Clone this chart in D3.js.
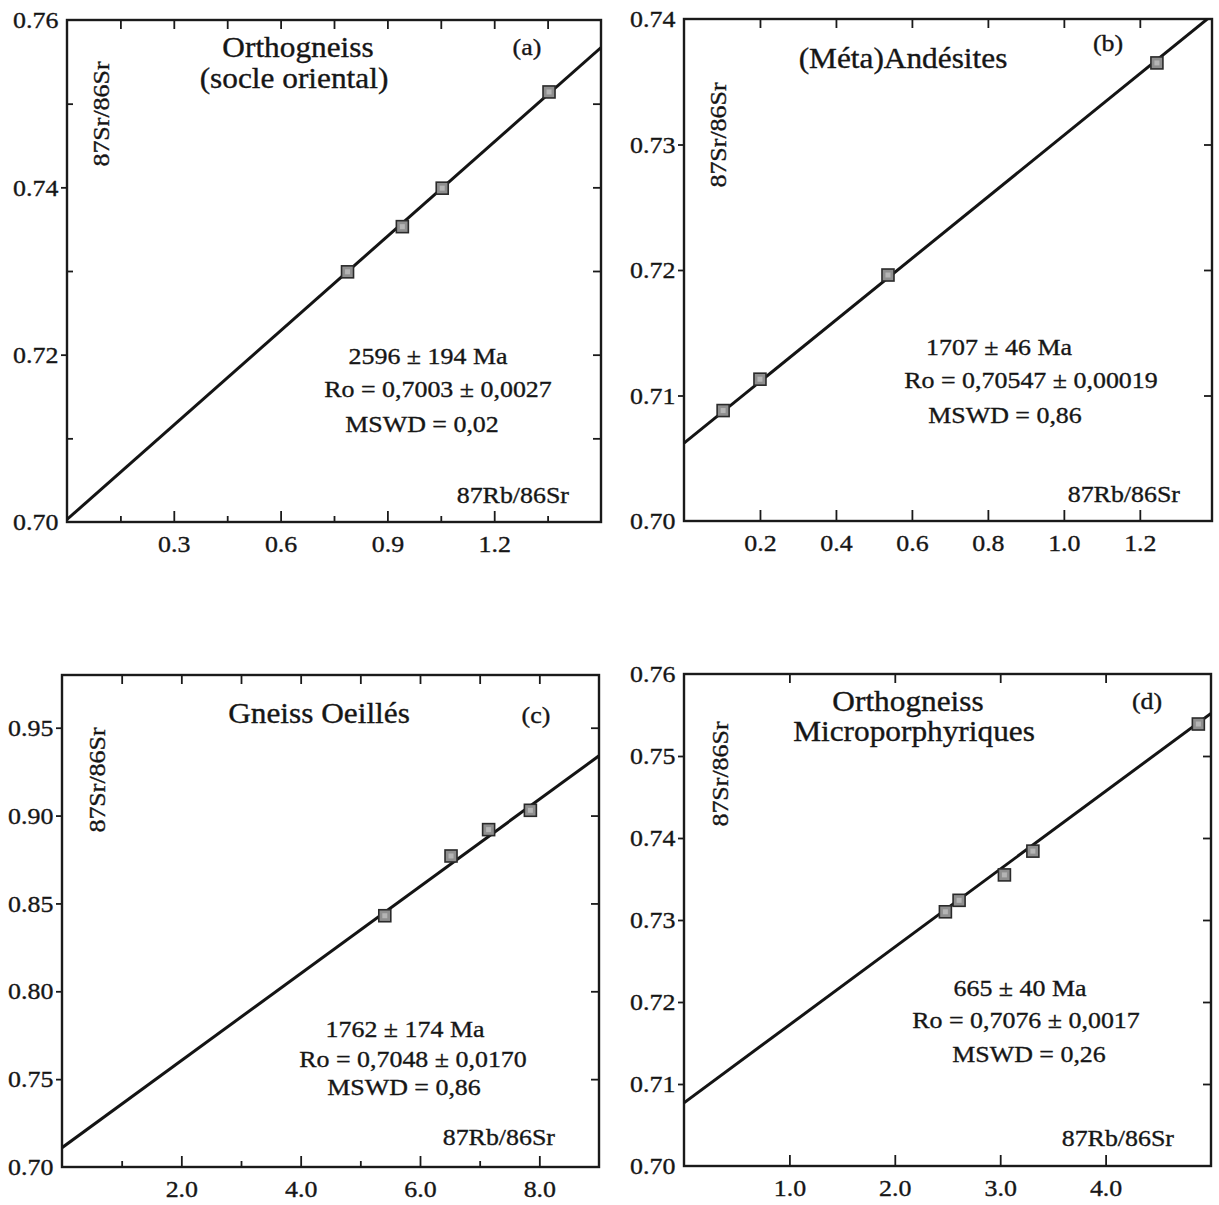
<!DOCTYPE html>
<html><head><meta charset="utf-8">
<script src="https://cdn.jsdelivr.net/npm/d3@7"></script>
<style>
body{margin:0;background:#fff}
svg{display:block}
text{font-family:"Liberation Serif","DejaVu Serif","Times New Roman",serif;fill:#161616;stroke:#161616;stroke-width:0.35px}
</style>
</head><body>
<svg id="chart" width="1219" height="1205"></svg>
<script>
// ---------------- DATA ----------------
// Panel (a) Orthogneiss (socle oriental)
const xA = [0.788, 0.942, 1.054, 1.354];
const yA = [0.7299, 0.7353, 0.7399, 0.7514];
const fitA = [[0, 0.7003], [1.5, 0.7567]];
const xDomA = [0, 1.5], yDomA = [0.70, 0.76];
const xTicksA = [0.15, 0.3, 0.45, 0.6, 0.75, 0.9, 1.05, 1.2, 1.35];
const xMajorA = [0.3, 0.6, 0.9, 1.2];
const xLabelsA = ["0.3", "0.6", "0.9", "1.2"];
const yTicksA = [0.71, 0.72, 0.73, 0.74, 0.75];
const yMajorA = [0.70, 0.72, 0.74, 0.76];
const yLabelsA = ["0.70", "0.72", "0.74", "0.76"];
const titleA = ["Orthogneiss", "(socle oriental)"];
const statsA = ["2596 \u00B1 194 Ma", "Ro = 0,7003 \u00B1 0,0027", "MSWD = 0,02"];

// Panel (b) (Méta)Andésites
const xB = [0.103, 0.200, 0.537, 1.245];
const yB = [0.7088, 0.7113, 0.7196, 0.7365];
const fitB = [[0, 0.7062], [1.39, 0.7403]];
const xDomB = [0, 1.39], yDomB = [0.70, 0.74];
const xTicksB = [0.2, 0.4, 0.6, 0.8, 1.0, 1.2];
const xMajorB = [0.2, 0.4, 0.6, 0.8, 1.0, 1.2];
const xLabelsB = ["0.2", "0.4", "0.6", "0.8", "1.0", "1.2"];
const yTicksB = [0.71, 0.72, 0.73];
const yMajorB = [0.70, 0.71, 0.72, 0.73, 0.74];
const yLabelsB = ["0.70", "0.71", "0.72", "0.73", "0.74"];
const titleB = ["(M\u00E9ta)And\u00E9sites"];
const statsB = ["1707 \u00B1 46 Ma", "Ro = 0,70547 \u00B1 0,00019", "MSWD = 0,86"];

// Panel (c) Gneiss Oeillés
const xC = [5.41, 6.52, 7.15, 7.85];
const yC = [0.843, 0.877, 0.892, 0.903];
const fitC = [[0, 0.711], [9, 0.934]];
const xDomC = [0, 9], yDomC = [0.70, 0.98];
const xTicksC = [1, 2, 3, 4, 5, 6, 7, 8];
const xMajorC = [2, 4, 6, 8];
const xLabelsC = ["2.0", "4.0", "6.0", "8.0"];
const yTicksC = [0.75, 0.80, 0.85, 0.90, 0.95];
const yMajorC = [0.70, 0.75, 0.80, 0.85, 0.90, 0.95];
const yLabelsC = ["0.70", "0.75", "0.80", "0.85", "0.90", "0.95"];
const titleC = ["Gneiss Oeill\u00E9s"];
const statsC = ["1762 \u00B1 174 Ma", "Ro = 0,7048 \u00B1 0,0170", "MSWD = 0,86"];

// Panel (d) Orthogneiss Microporphyriques
const xD = [2.48, 2.61, 3.04, 3.31, 4.88];
const yD = [0.7310, 0.7324, 0.7355, 0.7384, 0.7539];
const fitD = [[0, 0.7077], [5, 0.7552]];
const xDomD = [0, 5], yDomD = [0.70, 0.76];
const xTicksD = [1, 2, 3, 4];
const xMajorD = [1, 2, 3, 4];
const xLabelsD = ["1.0", "2.0", "3.0", "4.0"];
const yTicksD = [0.71, 0.72, 0.73, 0.74, 0.75];
const yMajorD = [0.70, 0.71, 0.72, 0.73, 0.74, 0.75, 0.76];
const yLabelsD = ["0.70", "0.71", "0.72", "0.73", "0.74", "0.75", "0.76"];
const titleD = ["Orthogneiss", "Microporphyriques"];
const statsD = ["665 \u00B1 40 Ma", "Ro = 0,7076 \u00B1 0,0017", "MSWD = 0,26"];

const tags = ["(a)", "(b)", "(c)", "(d)"];
const yAxisLabel = "87Sr/86Sr";
const xAxisLabel = "87Rb/86Sr";

// ---------------- LAYOUT ----------------
const layouts = [
  {x0:67, x1:601, y0:20, y1:522,
   title:[[298,57],[294,88]], tag:[527,55], ylab:[109,114],
   stats:[[428,364],[438,397],[422,432]], xlab:[569,503]},
  {x0:684, x1:1212, y0:19, y1:521,
   title:[[903,68]], tag:[1108,51], ylab:[726,135],
   stats:[[999,355],[1031,388],[1005,423]], xlab:[1180,502]},
  {x0:62, x1:599, y0:675, y1:1167,
   title:[[319,723]], tag:[536,723], ylab:[105,780],
   stats:[[405,1037],[413,1067],[404,1095]], xlab:[555,1145]},
  {x0:684, x1:1211, y0:674, y1:1166,
   title:[[908,711],[914,741]], tag:[1147,709], ylab:[728,774],
   stats:[[1020,996],[1026,1028],[1029,1062]], xlab:[1174,1146]}
];

const panels = [
  {xs:xA, ys:yA, fit:fitA, xd:xDomA, yd:yDomA, xt:xTicksA, xm:xMajorA, xl:xLabelsA, yt:yTicksA, ym:yMajorA, yl:yLabelsA, title:titleA, stats:statsA},
  {xs:xB, ys:yB, fit:fitB, xd:xDomB, yd:yDomB, xt:xTicksB, xm:xMajorB, xl:xLabelsB, yt:yTicksB, ym:yMajorB, yl:yLabelsB, title:titleB, stats:statsB},
  {xs:xC, ys:yC, fit:fitC, xd:xDomC, yd:yDomC, xt:xTicksC, xm:xMajorC, xl:xLabelsC, yt:yTicksC, ym:yMajorC, yl:yLabelsC, title:titleC, stats:statsC},
  {xs:xD, ys:yD, fit:fitD, xd:xDomD, yd:yDomD, xt:xTicksD, xm:xMajorD, xl:xLabelsD, yt:yTicksD, ym:yMajorD, yl:yLabelsD, title:titleD, stats:statsD}
];

const svg = d3.select("#chart");
svg.append("rect").attr("width",1219).attr("height",1205).attr("fill","#ffffff");
const INK = "#1a1a1a";
const SX = 1.08;

function label(g, txt, pos, size, anchor, rot){
  return g.append("text")
    .attr("transform", `translate(${pos[0]},${pos[1]})` + (rot ? ` rotate(${rot})` : "") + ` scale(${SX},1)`)
    .attr("text-anchor", anchor)
    .style("font-size", size + "px")
    .text(txt);
}

function styleAxis(sel){
  sel.select(".domain").remove();
  sel.selectAll(".tick line").attr("stroke", INK).attr("stroke-width", 1.8);
  sel.selectAll(".tick text")
     .style("font-size","24px")
     .style("font-family",'"Liberation Serif","DejaVu Serif",serif')
     .attr("fill","#161616");
}

panels.forEach((p, i) => {
  const L = layouts[i];
  const x = d3.scaleLinear().domain(p.xd).range([L.x0, L.x1]);
  const y = d3.scaleLinear().domain(p.yd).range([L.y1, L.y0]);
  const g = svg.append("g");

  const clipId = "clip" + i;
  svg.append("clipPath").attr("id", clipId).append("rect")
    .attr("x", L.x0).attr("y", L.y0).attr("width", L.x1 - L.x0).attr("height", L.y1 - L.y0);

  // bottom minor ticks (inward)
  g.append("g").attr("transform", `translate(0,${L.y1})`)
    .call(d3.axisBottom(x).tickValues(p.xt.filter(v => !p.xm.includes(v))).tickSizeInner(-6).tickSizeOuter(0).tickFormat(""))
    .call(styleAxis);
  // bottom major ticks (inward) with labels
  g.append("g").attr("transform", `translate(0,${L.y1})`)
    .call(d3.axisBottom(x).tickValues(p.xm).tickSizeInner(-11).tickSizeOuter(0).tickPadding(13).tickFormat((d, k) => p.xl[k]))
    .call(styleAxis)
    .call(s => s.selectAll(".tick text").attr("transform", `scale(${SX},1)`));
  // top ticks (inward)
  g.append("g").attr("transform", `translate(0,${L.y0})`)
    .call(d3.axisTop(x).tickValues(p.xt).tickSizeInner(-9).tickSizeOuter(0).tickFormat(""))
    .call(styleAxis);
  // left minor ticks (inward)
  g.append("g").attr("transform", `translate(${L.x0},0)`)
    .call(d3.axisLeft(y).tickValues(p.yt.filter(v => !p.ym.includes(v))).tickSizeInner(-6).tickSizeOuter(0).tickFormat(""))
    .call(styleAxis);
  // left major ticks (outward) with labels
  g.append("g").attr("transform", `translate(${L.x0},0)`)
    .call(d3.axisLeft(y).tickValues(p.ym).tickSizeInner(6).tickSizeOuter(0).tickPadding(2).tickFormat((d, k) => p.yl[k]))
    .call(styleAxis)
    .call(s => s.selectAll(".tick text").attr("transform", `scale(${SX},1)`))
    .call(s => s.selectAll(".tick line").filter(d => d === p.yd[0] || d === p.yd[1]).remove());
  // right ticks (inward)
  g.append("g").attr("transform", `translate(${L.x1},0)`)
    .call(d3.axisRight(y).tickValues(p.yt).tickSizeInner(-8).tickSizeOuter(0).tickFormat(""))
    .call(styleAxis);

  // frame
  g.append("rect").attr("x", L.x0).attr("y", L.y0)
    .attr("width", L.x1 - L.x0).attr("height", L.y1 - L.y0)
    .attr("fill", "none").attr("stroke", INK).attr("stroke-width", 2.4);

  // isochron line
  g.append("path").datum(p.fit)
    .attr("clip-path", `url(#${clipId})`)
    .attr("d", d3.line().x(d => x(d[0])).y(d => y(d[1])))
    .attr("fill", "none").attr("stroke", "#141414").attr("stroke-width", 3);

  // points
  const pts = d3.zip(p.xs, p.ys);
  g.selectAll("rect.pt").data(pts).join("rect").attr("class", "pt")
    .attr("x", d => x(d[0]) - 6).attr("y", d => y(d[1]) - 6)
    .attr("width", 12).attr("height", 12)
    .attr("fill", "#8f8f8f").attr("stroke", "#2a2a2a").attr("stroke-width", 1.6);
  g.selectAll("rect.pti").data(pts).join("rect").attr("class", "pti")
    .attr("x", d => x(d[0]) - 2.5).attr("y", d => y(d[1]) - 2.5)
    .attr("width", 5).attr("height", 5)
    .attr("fill", "#b5b5b5");

  // texts
  p.title.forEach((t, k) => label(g, t, L.title[k], 29, "middle"));
  label(g, tags[i], L.tag, 24, "middle");
  p.stats.forEach((t, k) => label(g, t, L.stats[k], 24, "middle"));
  label(g, xAxisLabel, L.xlab, 24, "end");
  label(g, yAxisLabel, L.ylab, 24, "middle", -90);
});
</script>
</body></html>
